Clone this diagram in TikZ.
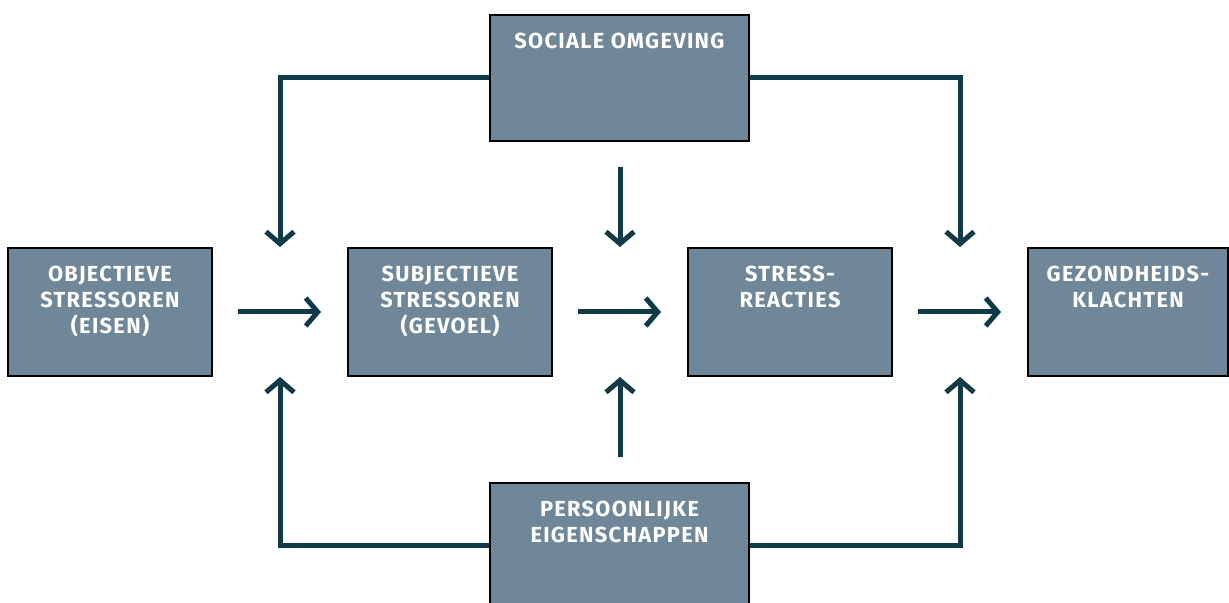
\documentclass[tikz,border=0pt]{standalone}
\usepackage{fontspec}
\usepackage{xcolor}
\usepackage{tikz}
\usetikzlibrary{positioning, calc, arrows.meta}
\newfontfamily\boxfont{Fira Sans}[LetterSpace=6]
\definecolor{slate}{RGB}{112,134,153}
\definecolor{teal-dark}{RGB}{14,59,71}

\begin{document}
\begin{tikzpicture}[x=0.5pt, y=0.5pt]

  \tikzstyle{module}=[draw=black, line width=1pt, fill=slate, minimum width=102pt, minimum height=64pt, inner sep=0pt]
  \tikzstyle{boxtext}=[anchor=north, yshift=-9.5pt, inner sep=0pt, align=center, text=white, font=\boxfont\bfseries\fontsize{10.9}{13}\selectfont]
  \tikzstyle{context}=[module, minimum width=129.5pt, minimum height=63pt]
  \tikzstyle{flow}=[teal-dark, line width=2.5pt, -{Straight Barb[length=6pt, width=14pt]}]

  \useasboundingbox (0,0) rectangle (1229,603);
  \clip (0,0) rectangle (1229,603);

  % stappen van stress naar klachten
  \node [module, label={[boxtext]north:OBJECTIEVE\\STRESSOREN\\(EISEN)}] (obj) at (110,291) {};
  \node [module, right = 67pt of obj, label={[boxtext]north:SUBJECTIEVE\\STRESSOREN\\(GEVOEL)}] (subj) {};
  \node [module, right = 67pt of subj, label={[boxtext]north:STRESS-\\REACTIES}] (stress) {};
  \node [module, minimum width=100pt, right = 67pt of stress, label={[boxtext]north:GEZONDHEIDS-\\KLACHTEN}] (klacht) {};

  % modererende factoren
  \node [context, label={[boxtext]north:SOCIALE OMGEVING}] (sociaal) at (619.5,525) {};
  \node [context, label={[boxtext]north:PERSOONLIJKE\\EIGENSCHAPPEN}] (persoon) at (619.5,57) {};

  \coordinate (in-a-top) at ($(obj.north east)!.5!(subj.north west)$);
  \coordinate (in-b-top) at ($(subj.north east)!.5!(stress.north west)$);
  \coordinate (in-c-top) at ($(stress.north east)!.5!(klacht.north west)$);
  \coordinate (in-a-bot) at ($(obj.south east)!.5!(subj.south west)$);
  \coordinate (in-b-bot) at ($(subj.south east)!.5!(stress.south west)$);
  \coordinate (in-c-bot) at ($(stress.south east)!.5!(klacht.south west)$);
  \coordinate (from-soc) at ($(sociaal.south -| in-b-top) + (0,-25)$);
  \coordinate (from-pers) at ($(persoon.north -| in-b-bot) + (0,25)$);

  \draw [flow, shorten <=12.5pt, shorten >=13pt] (obj) -- (subj);
  \draw [flow, shorten <=12.5pt, shorten >=13pt] (subj) -- (stress);
  \draw [flow, shorten <=12.5pt, shorten >=13pt] (stress) -- (klacht);

  \draw [flow] (sociaal.west) -| (in-a-top);
  \draw [flow] (from-soc) -- (in-b-top);
  \draw [flow] (sociaal.east) -| (in-c-top);

  \draw [flow] (persoon.west) -| (in-a-bot);
  \draw [flow] (from-pers) -- (in-b-bot);
  \draw [flow] (persoon.east) -| (in-c-bot);

\end{tikzpicture}
\end{document}
